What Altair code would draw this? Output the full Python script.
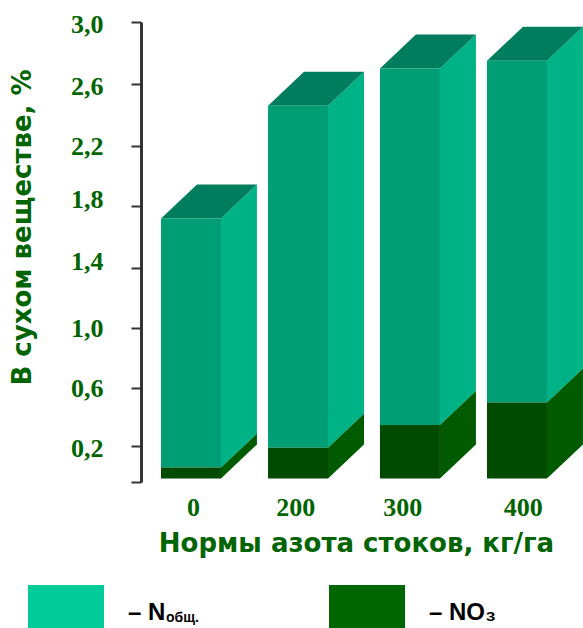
import altair as alt
import numpy as np
import pandas as pd

# Series values, % of dry matter
rates = ["0", "200", "300", "400"]
n_total = [1.72, 2.46, 2.70, 2.75]
no3 = [0.08, 0.19, 0.345, 0.50]
base_level = 0.02
y_ticks = [0.0, 0.2, 0.6, 1.0, 1.4, 1.8, 2.2, 2.6, 3.0]

GREEN = "#006400"
COLORS = {
    "n_front": "#009E75", "n_side": "#00B386", "n_top": "#007D5C",
    "no3_front": "#004B00", "no3_side": "#005A00",
}

# Layout of the pseudo-3D columns, in slot units along x
slots = [0.0, 0.985, 2.015, 3.0]
label_slots = [0.295, 1.235, 2.22, 3.33]
front_w = 0.552
depth_x = 0.331
depth_px = 34

# The hand-drawn axis is not evenly spaced, so the scale follows its ticks piece by piece
y_domain = y_ticks
y_range = [460, 424, 366, 306, 246, 184, 124, 62, 0]


def lifted(v):
    """Value that sits depth_px higher than v on the y scale."""
    px = np.interp(v, y_domain, y_range) - depth_px
    return float(np.interp(-px, [-r for r in y_range], y_domain))


fronts, sides, tops = [], [], []
for s, total, nitrate in zip(slots, n_total, no3):
    right = s + front_w
    fronts.append(dict(x=s, x2=right, y=total, y2=nitrate, face="n_front"))
    fronts.append(dict(x=s, x2=right, y=nitrate, y2=base_level, face="no3_front"))
    for name, hi, lo in (("n_side", total, nitrate), ("no3_side", nitrate, base_level)):
        key = f"{name}{s}"
        sides.append(dict(x=right, y=hi, y2=lo, face=name, key=key))
        sides.append(dict(x=right + depth_x, y=lifted(hi), y2=lifted(lo), face=name, key=key))
    key = f"top{s}"
    tops.append(dict(y=total, x=s, x2=right, face="n_top", key=key))
    tops.append(dict(y=lifted(total), x=s + depth_x, x2=right + depth_x, face="n_top", key=key))

x_scale = alt.Scale(domain=[0, 4], range=[20, 454.67], nice=False, zero=False)
y_scale = alt.Scale(domain=y_domain, range=y_range, nice=False)
color = alt.Color(
    "face:N",
    scale=alt.Scale(domain=list(COLORS), range=list(COLORS.values())),
    legend=None,
)

x_label_expr = " : ".join(f"datum.value === {v} ? '{t}'" for v, t in zip(label_slots, rates)) + " : ''"

x_axis = alt.Axis(
    values=label_slots, labelExpr=x_label_expr, domain=False, ticks=False, grid=False,
    labelFont="Liberation Serif", labelFontWeight="bold", labelFontSize=26, labelColor=GREEN,
    labelPadding=12, labelFlush=False, labelOverlap=False,
    title="Нормы азота стоков, кг/га", titleFont="DejaVu Sans", titleFontWeight="bold",
    titleFontSize=26, titleColor=GREEN, titleX=215, titleY=61, titleBaseline="middle",
)
y_axis = alt.Axis(
    values=y_ticks, labelExpr="datum.value === 0 ? '' : replace(format(datum.value, '.1f'), '.', ',')",
    grid=False, domainColor="#333333", domainWidth=3, tickColor="#333333", tickWidth=2, tickSize=10,
    labelFont="Liberation Serif", labelFontWeight="bold", labelFontSize=26, labelColor=GREEN,
    labelPadding=28, labelOverlap=False, labelFlush=False,
    labelOffset={
        "condition": [
            {"test": "datum.value === 1.8 || datum.value === 1.4", "value": -7},
            {"test": "datum.value === 2.2 || datum.value === 1.0 || datum.value === 0.6", "value": 0},
        ],
        "value": 2,
    },
    title="В сухом веществе, %", titleFont="DejaVu Sans", titleFontWeight="bold",
    titleFontSize=26, titleColor=GREEN, titleX=-119, titleY=205, titleAngle=270,
    titleBaseline="middle",
)

x_enc = alt.X("x:Q", scale=x_scale, axis=x_axis)
y_enc = alt.Y("y:Q", scale=y_scale, axis=y_axis)

side_layer = alt.Chart(pd.DataFrame(sides)).mark_area().encode(
    x=x_enc, y=y_enc, y2="y2:Q", color=color, detail="key:N",
)
top_layer = alt.Chart(pd.DataFrame(tops)).mark_area(orient="horizontal").encode(
    y=y_enc, x=x_enc, x2="x2:Q", color=color, detail="key:N",
)
front_layer = alt.Chart(pd.DataFrame(fronts)).mark_rect().encode(
    x=x_enc, x2="x2:Q", y=y_enc, y2="y2:Q", color=color,
)

# Key below the chart
anchor = pd.DataFrame({"_": [0]})


def swatch(left, fill):
    return alt.Chart(anchor).mark_rect(color=fill).encode(
        x=alt.value(left), x2=alt.value(left + 76),
        y=alt.value(563), y2=alt.value(606),
    )


def key_text(label, left, size, top=598):
    return alt.Chart(anchor).mark_text(
        text=label, align="left", baseline="alphabetic", font="Liberation Sans",
        fontWeight="bold", fontSize=size, color="black",
    ).encode(x=alt.value(left), y=alt.value(top))


key_layers = [
    swatch(-113, "#00CC99"),
    key_text("– N", -13, 24),
    key_text("общ.", 25, 14, 600),
    swatch(188, "#006600"),
    key_text("– NO₃", 288, 24),
]

chart = alt.layer(side_layer, top_layer, front_layer, *key_layers).properties(
    width=442,
    height=460,
    padding={"left": 141, "top": 22, "right": 0, "bottom": 146},
    autosize=alt.AutoSizeParams(type="none"),
    background="white",
).configure_view(strokeWidth=0)

chart.save("out.html", embed_options={"renderer": "svg", "actions": False})
